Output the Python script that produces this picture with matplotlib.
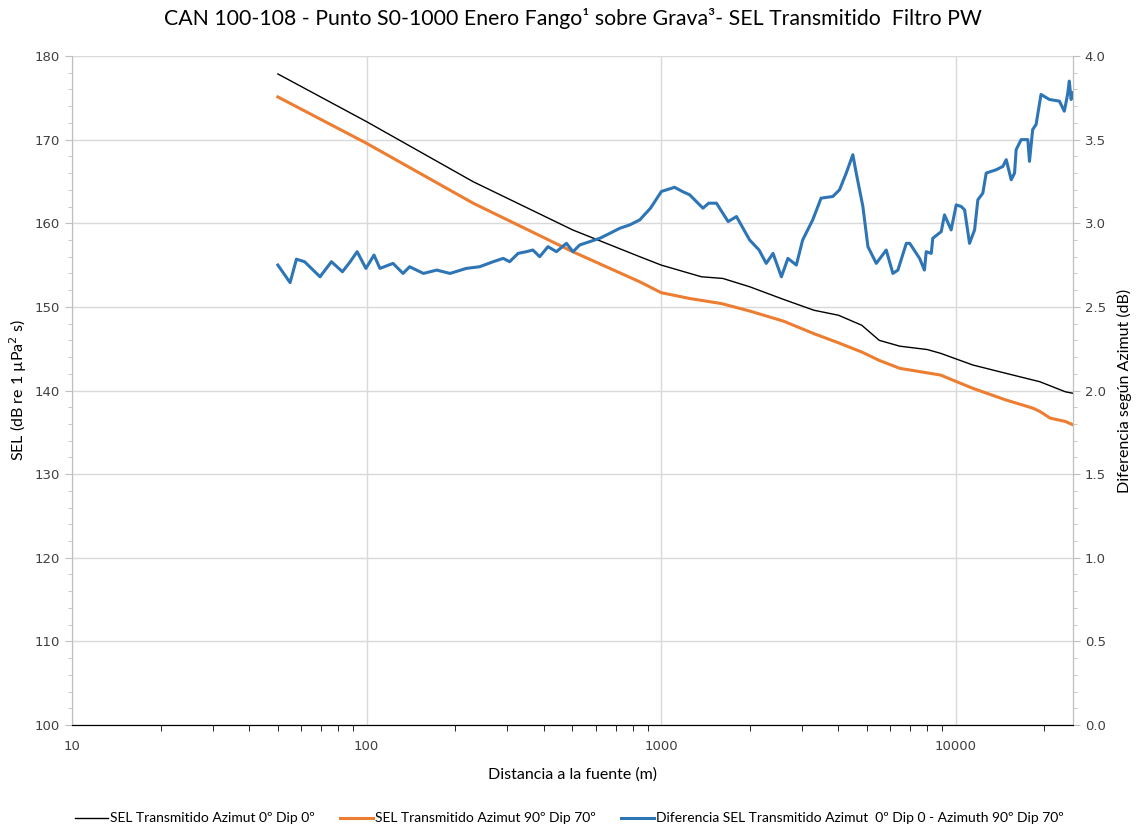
import numpy as np
import matplotlib.pyplot as plt
from matplotlib.ticker import FixedLocator, FuncFormatter, MultipleLocator

# distancia (m) y SEL transmitido (dB re 1 uPa^2 s)
dist_az0 = [50, 100, 230, 501, 846, 1000, 1370, 1620, 2000, 2600, 3300, 4000, 4800, 5500,
            6460, 8000, 8880, 11430, 14830, 19300, 23550, 25000]
sel_az0 = [177.85, 172.15, 164.97, 159.2, 156.0, 155.0, 153.6, 153.4, 152.4, 150.9, 149.6,
           149.0, 147.8, 146.0, 145.3, 144.9, 144.45, 143.05, 142.05, 141.05, 139.85, 139.67]

dist_az90 = [50, 100, 230, 501, 846, 1000, 1250, 1600, 2000, 2600, 3300, 4000, 4800, 5500,
             6460, 8880, 11430, 14830, 18250, 19300, 20920, 23550, 25000]
sel_az90 = [175.1, 169.56, 162.4, 156.6, 153.0, 151.7, 151.0, 150.4, 149.5, 148.3, 146.8,
            145.7, 144.6, 143.6, 142.65, 141.85, 140.26, 138.86, 137.9, 137.5, 136.7, 136.3, 135.9]

# diferencia entre azimuts (dB)
dist_dif = [50, 55, 57.8, 61.6, 65, 69.5, 76, 82.8, 88, 92.9, 99.5, 106, 111, 123, 133, 140,
            156, 173, 192, 218, 242, 269, 291, 306, 327, 349, 367, 387, 413, 441, 477, 502,
            529, 572, 619, 670, 724, 782, 846, 920, 1002, 1111, 1180, 1250, 1387, 1450, 1541,
            1688, 1802, 1997, 2150, 2274, 2398, 2560, 2694, 2877, 3023, 3270, 3491, 3826,
            4033, 4250, 4475, 4595, 4840, 5035, 5375, 5810, 6120, 6365, 6797, 6980, 7540,
            7830, 7940, 8260, 8360, 8930, 9160, 9650, 10040, 10440, 10720, 11140, 11590,
            11890, 12360, 12690, 13730, 14460, 14840, 15430, 15840, 16040, 16680, 17570,
            17800, 18250, 18740, 19480, 20790, 22490, 23370, 23980, 24300, 24640, 25000]
dif = [2.75, 2.645, 2.785, 2.77, 2.73, 2.68, 2.77, 2.71, 2.77, 2.83, 2.73, 2.81, 2.73, 2.76,
       2.70, 2.74, 2.70, 2.72, 2.70, 2.73, 2.74, 2.77, 2.79, 2.77, 2.82, 2.83, 2.84, 2.80,
       2.86, 2.83, 2.88, 2.83, 2.87, 2.89, 2.91, 2.94, 2.97, 2.99, 3.02, 3.09, 3.19, 3.215,
       3.19, 3.17, 3.09, 3.12, 3.12, 3.01, 3.04, 2.90, 2.84, 2.76, 2.82, 2.68, 2.79, 2.75,
       2.90, 3.02, 3.15, 3.16, 3.20, 3.30, 3.41, 3.30, 3.10, 2.86, 2.76, 2.84, 2.70, 2.72,
       2.88, 2.88, 2.79, 2.72, 2.83, 2.82, 2.91, 2.95, 3.05, 2.96, 3.11, 3.10, 3.08, 2.88,
       2.96, 3.14, 3.18, 3.30, 3.32, 3.34, 3.38, 3.26, 3.30, 3.44, 3.50, 3.50, 3.37, 3.56,
       3.59, 3.77, 3.74, 3.73, 3.67, 3.77, 3.85, 3.74, 3.78]

x_ticks = [10, 100, 1000, 10000]

font = 'Lato'
grid_c = '#d9d9d9'
spine_c = '#bfbfbf'

fig = plt.figure(figsize=(11.39, 8.27), dpi=100)
ax = fig.add_axes([0.0632, 0.1233, 0.8788, 0.809])
ax2 = ax.twinx()

l1, = ax.plot(dist_az0, sel_az0, color='black', lw=1.0)
l2, = ax.plot(dist_az90, sel_az90, color='#ED7D31', lw=2.2)
l3, = ax2.plot(dist_dif, dif, color='#2E75B6', lw=2.2)

ax.set_xscale('log')
ax.set_xlim(10, 25000)
ax.set_ylim(100, 180)
ax2.set_ylim(0, 4.0)

ax.xaxis.set_major_locator(FixedLocator(x_ticks))
ax.xaxis.set_major_formatter(FuncFormatter(lambda v, p: f'{v:.0f}'))
ax.yaxis.set_major_locator(MultipleLocator(10))
ax.yaxis.set_minor_locator(MultipleLocator(2))
ax2.yaxis.set_major_locator(MultipleLocator(0.5))
ax2.yaxis.set_minor_locator(MultipleLocator(0.1))
ax2.yaxis.set_major_formatter(FuncFormatter(lambda v, p: f'{v:.1f}'))

ax.grid(True, which='major', color=grid_c, lw=1.0)
ax.set_axisbelow(True)

for a in (ax, ax2):
    a.spines['top'].set_visible(False)
    a.spines['left'].set_color(spine_c)
    a.spines['right'].set_color(spine_c)
    a.spines['bottom'].set_color('black')
    a.tick_params(axis='y', which='both', color=spine_c, labelsize=9.5, labelcolor='#404040')
    a.tick_params(axis='y', which='major', length=5)
    a.tick_params(axis='y', which='minor', length=3)
ax.tick_params(axis='x', which='major', length=0, labelsize=9.5, labelcolor='#404040', pad=11)
ax.tick_params(axis='x', which='minor', length=4, color='black')
ax.xaxis.set_minor_formatter(FuncFormatter(lambda v, p: ''))

ax.set_xlabel('Distancia a la fuente (m)', fontsize=11.5, family=font, labelpad=10)
ax.set_ylabel('SEL (dB re 1 µPa$^2$ s)', fontsize=11.5, family=font, labelpad=4)
ax2.set_ylabel('Diferencia según Azimut (dB)', fontsize=11.5, family=font, labelpad=8)
ax.set_title('CAN 100-108 - Punto S0-1000 Enero Fango¹ sobre Grava³- SEL Transmitido  Filtro PW',
             fontsize=15.3, family=font, pad=22)

fig.legend([l1, l2, l3],
           ['SEL Transmitido Azimut 0º Dip 0º', 'SEL Transmitido Azimut 90º Dip 70º',
            'Diferencia SEL Transmitido Azimut  0º Dip 0 - Azimuth 90º Dip 70º'],
           loc='lower center', bbox_to_anchor=(0.5, -0.012), ncol=3, frameon=False,
           prop={'family': font, 'size': 10}, handlelength=2.4, handletextpad=0.15,
           columnspacing=1.8)

fig.savefig('out.png', dpi=100)
